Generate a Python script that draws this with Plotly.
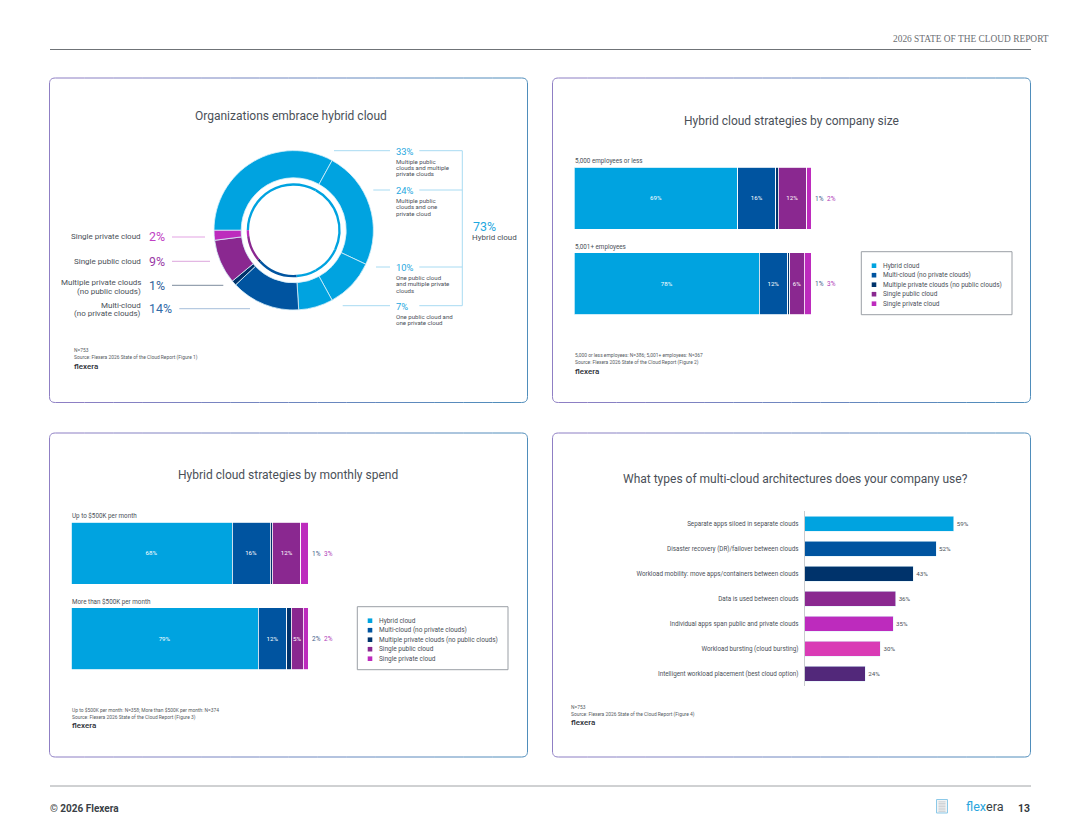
import plotly.graph_objects as go

W, H = 1080, 835
FONT = "Roboto"
GREY = "#4a5058"

SERIES = ["Hybrid cloud", "Multi-cloud (no private clouds)", "Multiple private clouds (no public clouds)",
          "Single public cloud", "Single private cloud"]
SERIES_COLORS = ["#00a3e0", "#0054a0", "#00336b", "#8a2890", "#bd2bbd"]

# donut
DONUT_VALUES = [33, 24, 10, 7, 14, 1, 9, 2]
DONUT_COLORS = ["#00a3e0", "#00a3e0", "#00a3e0", "#00a3e0", "#0054a0", "#00336b", "#8a2890", "#bd2bbd"]
DONUT_LEFT = [("Single private cloud", "2%"), ("Single public cloud", "9%"),
              ("Multiple private clouds<br>(no public clouds)", "1%"), ("Multi-cloud<br>(no private clouds)", "14%")]
DONUT_RIGHT = [("33%", "Multiple public<br>clouds and multiple<br>private clouds"),
               ("24%", "Multiple public<br>clouds and one<br>private cloud"),
               ("10%", "One public cloud<br>and multiple private<br>clouds"),
               ("7%", "One public cloud and<br>one private cloud")]

# stacked bars
SIZE_ROWS = ["5,000 employees or less", "5,001+ employees"]
SIZE_VALUES = [[69, 16, 1, 12, 2], [78, 12, 1, 6, 3]]
SPEND_ROWS = ["Up to $500K per month", "More than $500K per month"]
SPEND_VALUES = [[68, 16, 1, 12, 3], [79, 12, 2, 5, 2]]

# horizontal bars
ARCH_LABELS = ["Separate apps siloed in separate clouds", "Disaster recovery (DR)/failover between clouds",
               "Workload mobility: move apps/containers between clouds", "Data is used between clouds",
               "Individual apps span public and private clouds", "Workload bursting (cloud bursting)",
               "Intelligent workload placement (best cloud option)"]
ARCH_VALUES = [59, 52, 43, 36, 35, 30, 24]
ARCH_COLORS = ["#00a3e0", "#0054a0", "#00336b", "#8a2890", "#bd2bbd", "#d93bb5", "#52287a"]

TITLE_SIZE = 12


def px(x):
    return x / W


def py(y):
    return 1 - y / H


fig = go.Figure()
shapes = []
annotations = []


def text(x, y, s, size, color=GREY, anchor="left", weight=None, family=FONT):
    annotations.append(dict(
        x=px(x), y=py(y), xref="paper", yref="paper", text=s, showarrow=False,
        xanchor=anchor, yanchor="middle", align=anchor, borderpad=0,
        font=dict(size=size, color=color, family=family, weight=weight),
    ))


def lines(x, y, s, size, leading, color=GREY, anchor="left"):
    # plotly's line height is fixed, so each line gets its own annotation
    for i, part in enumerate(s.split("<br>")):
        text(x, y + i * leading, part, size, color, anchor)


def line(x0, y0, x1, y1, color, width=1):
    shapes.append(dict(type="line", xref="paper", yref="paper", x0=px(x0), y0=py(y0), x1=px(x1), y1=py(y1),
                       line=dict(color=color, width=width)))


def mix(a, b, t):
    va = [int(a[i:i + 2], 16) for i in (1, 3, 5)]
    vb = [int(b[i:i + 2], 16) for i in (1, 3, 5)]
    return "#%02x%02x%02x" % tuple(round(p + (q - p) * t) for p, q in zip(va, vb))


def card(x0, y0, x1, y1, r=6):
    # border fades from purple on the left to blue on the right
    left, right = "#8f7fc4", "#4f8dbb"
    k = r * 0.3
    shapes.append(dict(type="path", xref="paper", yref="paper", line=dict(color=left, width=1),
                       path=f"M {px(x0 + r)} {py(y0)} C {px(x0 + k)} {py(y0)} {px(x0)} {py(y0 + k)} {px(x0)} {py(y0 + r)} "
                            f"L {px(x0)} {py(y1 - r)} C {px(x0)} {py(y1 - k)} {px(x0 + k)} {py(y1)} {px(x0 + r)} {py(y1)}"))
    shapes.append(dict(type="path", xref="paper", yref="paper", line=dict(color=right, width=1),
                       path=f"M {px(x1 - r)} {py(y0)} C {px(x1 - k)} {py(y0)} {px(x1)} {py(y0 + k)} {px(x1)} {py(y0 + r)} "
                            f"L {px(x1)} {py(y1 - r)} C {px(x1)} {py(y1 - k)} {px(x1 - k)} {py(y1)} {px(x1 - r)} {py(y1)}"))
    n = 16
    step = (x1 - x0 - 2 * r) / n
    for i in range(n):
        c = mix(left, right, (i + 0.5) / n)
        a, b = x0 + r + i * step, x0 + r + (i + 1) * step
        line(a, y0, b, y0, c)
        line(a, y1, b, y1, c)


def notes(x, y, first, second):
    text(x, y, first, 4.9, "#555b62")
    text(x, y + 7.4, second, 4.9, "#555b62")
    text(x, y + 16.2, "flexera", 8, "#2b2f36", weight=500)


def stacked(values, rows, suffix, x0, x1, top, legend_x, legend_y):
    # plot box is one pitch per row, bars are 62px in an 85.4px pitch
    ymid = top + 31
    y_top, y_bottom = ymid - 42.7, ymid + 85.4 + 42.7
    for j, name in enumerate(SERIES):
        fig.add_trace(go.Bar(
            y=rows, x=[v[j] for v in values], orientation="h", name=name, showlegend=False,
            width=0.726, xaxis="x" + suffix, yaxis="y" + suffix,
            marker=dict(color=SERIES_COLORS[j], line=dict(color="#ffffff", width=0.8)),
            text=["" if j in (2, 4) else f"{v[j]}%" for v in values],
            textposition="inside", insidetextanchor="middle", textangle=0, constraintext="none",
            textfont=dict(size=6.2, color="#ffffff", family=FONT),
        ))
    fig.layout["xaxis" + suffix] = dict(domain=[px(x0), px(x1)], range=[0, 100], visible=False, anchor="y" + suffix)
    fig.layout["yaxis" + suffix] = dict(domain=[py(y_bottom), py(y_top)], range=[1.5, -0.5], visible=False,
                                        anchor="x" + suffix, type="category", categoryarray=rows)
    for i, row in enumerate(rows):
        mid = ymid + i * 85.4
        text(x0, mid - 37, row, 6.3)
        text(x1 + 3, mid + 0.5, f"{values[i][2]}%", 6.5, "#44618a")
        text(x1 + 14.5, mid + 0.5, f"{values[i][4]}%", 6.5, "#b040b8")
    # legend box
    shapes.append(dict(type="rect", xref="paper", yref="paper", x0=px(legend_x), x1=px(legend_x + 150.7),
                       y0=py(legend_y), y1=py(legend_y + 63), line=dict(color="#9a9fa5", width=1)))
    for j, name in enumerate(SERIES):
        ly = legend_y + 14 + j * 9.5
        shapes.append(dict(type="rect", xref="paper", yref="paper", x0=px(legend_x + 10.4), x1=px(legend_x + 15),
                           y0=py(ly + 2.3), y1=py(ly - 2.3), fillcolor=SERIES_COLORS[j], line_width=0))
        text(legend_x + 20.7, ly, name, 6.5)


# page furniture
line(50, 49.5, 1031, 49.5, "#6f7377", 1)
text(1050, 38.5, "2026 STATE OF THE CLOUD REPORT", 9.4, "#6a6e72", anchor="right", family="Liberation Serif")
line(50, 786, 1031, 786, "#a0a3a6", 1)
text(49, 808, "© 2026 Flexera", 10, "#3a3f46", weight=700)
text(1031, 808.5, "13", 10.4, "#33373d", anchor="right", weight=700)
text(965, 806.5, '<span style="color:#2ba6de">flex</span>era', 12.6, "#3a3f46", weight=400)
shapes.append(dict(type="rect", xref="paper", yref="paper", x0=px(936.5), x1=px(947.5), y0=py(813), y1=py(799.5),
                   fillcolor="#f2f4f5", line=dict(color="#8cc9e8", width=1)))
for k in range(7):
    line(938.5, 801.8 + k * 1.6, 945.5, 801.8 + k * 1.6, "#c4c7ca", 0.8)

card(49.5, 78, 527.5, 402.5)
card(552.5, 78, 1030.5, 402.5)
card(49.5, 433, 527.5, 757)
card(552.5, 433, 1030.5, 757)

# card 1: donut
text(291.3, 115.7, "Organizations embrace hybrid cloud", TITLE_SIZE, anchor="center")
fig.add_trace(go.Pie(
    values=DONUT_VALUES, sort=False, direction="clockwise", rotation=270, hole=0.659, textinfo="none",
    marker=dict(colors=DONUT_COLORS, line=dict(color="#d8f0fa", width=0.8)), showlegend=False,
    domain=dict(x=[px(214), px(373.4)], y=[py(310), py(150.6)]),
))
fig.add_trace(go.Pie(
    values=DONUT_VALUES, sort=False, direction="clockwise", rotation=270, hole=0.95, textinfo="none",
    marker=dict(colors=DONUT_COLORS, line=dict(width=0)), showlegend=False,
    domain=dict(x=[px(246.7), px(340.7)], y=[py(277.3), py(183.3)]),
))

LEFT_Y = [237, 261.3, 285.3, 308.7]
LEFT_TEXT_Y = [237, 261.3, 282.5, 305]
LEFT_COLORS = ["#c040c4", "#9a3aa6", "#2f5f9a", "#2f6aa8"]
LEFT_LINES = [(172, 205, "#e3a3e3"), (172, 210, "#dda5dd"), (172, 223.3, "#7c8b9d"), (179.3, 250, "#a5bedb")]
for (name, pct), y, ty, c, ln in zip(DONUT_LEFT, LEFT_Y, LEFT_TEXT_Y, LEFT_COLORS, LEFT_LINES):
    lines(142.3, ty, name, 8, 8.5, anchor="right")
    text(148, y - 0.3, pct, 12.4, c)
    line(ln[0], y, ln[1], y, ln[2])

RIGHT_Y = [150.7, 190, 267, 305.7]
RIGHT_START = [334, 373.3, 376, 342.7]
for (pct, desc), y, x0 in zip(DONUT_RIGHT, RIGHT_Y, RIGHT_START):
    line(x0, y, 390, y, "#a8dbf2")
    line(419.3, y, 462.3, y, "#a8dbf2")
    text(395, y + 0.3, pct, 9.4, "#1fa8e0")
    lines(395.3, y + 10.3, desc, 6.1, 6.5)
line(462.3, 150.7, 462.3, 305.7, "#a8dbf2")
text(471.7, 226, "73%", 12.4, "#1fa8e0")
text(471, 237.7, "Hybrid cloud", 8)
notes(72.7, 350.3, "N=753", "Source: Flexera 2026 State of the Cloud Report (Figure 1)")

# card 2: company size
text(791.7, 120.7, "Hybrid cloud strategies by company size", TITLE_SIZE, anchor="center")
stacked(SIZE_VALUES, SIZE_ROWS, "", 574.3, 811.3, 167.3, 861.3, 251.7)
notes(574, 355, "5,000 or less employees: N=386; 5,001+ employees: N=367",
      "Source: Flexera 2026 State of the Cloud Report (Figure 2)")

# card 3: monthly spend
text(288.3, 475.3, "Hybrid cloud strategies by monthly spend", TITLE_SIZE, anchor="center")
stacked(SPEND_VALUES, SPEND_ROWS, "2", 71, 308, 522.3, 357.3, 606.7)
notes(71, 709.7, "Up to $500K per month: N=358; More than $500K per month: N=374",
      "Source: Flexera 2026 State of the Cloud Report (Figure 3)")

# card 4: architectures
text(795, 479.3, "What types of multi-cloud architectures does your company use?", TITLE_SIZE, anchor="center")
fig.add_trace(go.Bar(
    y=ARCH_LABELS, x=ARCH_VALUES, orientation="h", width=0.6, showlegend=False, xaxis="x3", yaxis="y3",
    marker=dict(color=ARCH_COLORS, line=dict(color="#dff2fa", width=0.6)),
    text=[f"{v}%" for v in ARCH_VALUES], textposition="outside", cliponaxis=False,
    textfont=dict(size=6.2, color=GREY, family=FONT),
))
fig.layout["xaxis3"] = dict(domain=[px(804.7), px(981.5)], range=[0, 70], visible=False, anchor="y3")
fig.layout["yaxis3"] = dict(domain=[py(686.2), py(511.2)], range=[6.5, -0.5], type="category",
                            categoryarray=ARCH_LABELS, anchor="x3", showline=True, linecolor="#c9cccf", linewidth=1,
                            showgrid=False, ticks="outside", ticklen=4, tickcolor="#ffffff", tickwidth=0,
                            tickfont=dict(size=6.3, color=GREY, family=FONT))
notes(570, 706.7, "N=753", "Source: Flexera 2026 State of the Cloud Report (Figure 4)")

fig.update_layout(
    width=W, height=H, margin=dict(l=0, r=0, t=0, b=0), autosize=False,
    paper_bgcolor="#ffffff", plot_bgcolor="#ffffff", barmode="stack",
    shapes=shapes, annotations=annotations, font=dict(family=FONT),
)
fig.write_html("out.html", config=dict(displayModeBar=False),
               post_script="document.body.style.margin='0';")
